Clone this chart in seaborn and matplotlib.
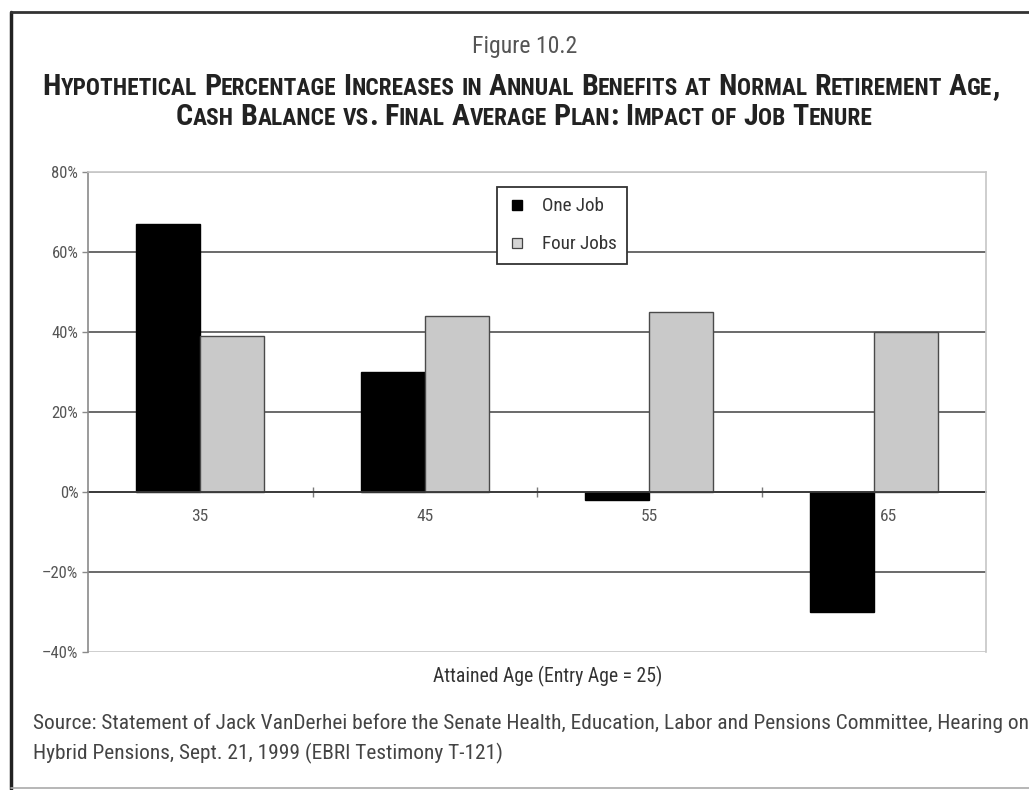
import matplotlib
matplotlib.use("Agg")
import matplotlib.pyplot as plt
import seaborn as sns
import pandas as pd
from matplotlib import font_manager as fm
from matplotlib.lines import Line2D
from matplotlib.ticker import FixedLocator, FuncFormatter
from matplotlib.transforms import ScaledTranslation

# ---------------- data ----------------
ages = ["35", "45", "55", "65"]
series = ["One Job", "Four Jobs"]
one_job = [67, 30, -2, -30]
four_jobs = [39, 44, 45, 40]
y_ticks = [-40, -20, 0, 20, 40, 60, 80]
x_title = "Attained Age (Entry Age = 25)"
fig_label = "Figure 10.2"
title_lines = [
    "Hypothetical Percentage Increases in Annual Benefits at Normal Retirement Age,",
    "Cash Balance vs. Final Average Plan: Impact of Job Tenure",
]
source_lines = [
    "Source: Statement of Jack VanDerhei before the Senate Health, Education, Labor and Pensions Committee, Hearing on",
    "Hybrid Pensions, Sept. 21, 1999 (EBRI Testimony T-121)",
]

df = pd.DataFrame({
    "age": ages * 2,
    "series": [series[0]] * len(ages) + [series[1]] * len(ages),
    "value": one_job + four_jobs,
})

# ---------------- style ----------------
sns.set_theme(style="white")
avail = {f.name for f in fm.fontManager.ttflist}


def pick(cands):
    for c in cands:
        if c in avail:
            return c
    return "DejaVu Sans"


COND = pick(["Liberation Sans Narrow", "DejaVu Sans Condensed", "Roboto Condensed",
             "Open Sans Condensed", "Liberation Sans", "Roboto"])
plt.rcParams["font.family"] = [COND, "DejaVu Sans"]

W, H = 1029, 790
fig = plt.figure(figsize=(W / 100, H / 100), dpi=100)
fig.patch.set_facecolor("white")
renderer = fig.canvas.get_renderer()


def text_width(s, size, **kw):
    t = fig.text(0, 0, s, fontsize=size, **kw)
    w = t.get_window_extent(renderer).width
    t.remove()
    return w


ax = fig.add_axes([88 / W, 1 - 652 / H, (986 - 88) / W, (652 - 172) / H])

sns.barplot(data=df, x="age", y="value", hue="series", order=ages, hue_order=series,
            palette={series[0]: "#000000", series[1]: "#c9c9c9"}, saturation=1,
            width=0.57, gap=0, errorbar=None, legend=False, ax=ax)

for bar in ax.containers[0]:
    bar.set_edgecolor("#000000")
    bar.set_linewidth(1.0)
for bar in ax.containers[1]:
    bar.set_edgecolor("#4a4a4a")
    bar.set_linewidth(1.0)

ax.set_xlim(-0.5, len(ages) - 0.5)
ax.set_ylim(y_ticks[0], y_ticks[-1])
ax.set_axisbelow(True)

# spines
ax.spines["bottom"].set_position(("data", 0))
ax.spines["bottom"].set_color("#3a3a3a")
ax.spines["bottom"].set_linewidth(1.3)
ax.spines["bottom"].set_zorder(1.5)
ax.spines["left"].set_color("#8a8a8a")
ax.spines["left"].set_linewidth(1.2)
for s in ("top", "right"):
    ax.spines[s].set_color("#c6c6c6")
    ax.spines[s].set_linewidth(1.2)

# y axis
ax.yaxis.set_major_locator(FixedLocator(y_ticks))
ax.yaxis.set_major_formatter(FuncFormatter(lambda v, p: f"{int(v)}%".replace("-", "\u2013")))
ax.tick_params(axis="y", which="major", length=4, width=1, color="#8a8a8a", direction="out",
               labelsize=12, labelcolor="#555555", pad=3, left=True)
ax.grid(axis="y", color="#505050", linewidth=1.2)
for tv, gl in zip(y_ticks, ax.yaxis.get_gridlines()):
    if tv in (y_ticks[0], y_ticks[-1]):
        gl.set_color("#c6c6c6")
ax.set_ylabel("")

# x axis
ax.tick_params(axis="x", which="major", length=0, pad=12, labelsize=12.5,
               labelcolor="#555555", bottom=True)
ax.xaxis.set_minor_locator(FixedLocator([0.5, 1.5, 2.5]))
ax.tick_params(axis="x", which="minor", length=7, width=1, direction="inout",
               color="#7a7a7a", bottom=True)
xl_size = 11 * 230 / text_width(x_title, 11)
ax.set_xlabel(x_title, fontsize=xl_size, color="#333333")
ax.xaxis.set_label_coords(0.512, -0.03)

fig.canvas.draw()
labs = ax.get_xticklabels()
labs[-1].set_transform(labs[-1].get_transform() + ScaledTranslation(0.15, 0, fig.dpi_scale_trans))

# legend
leg_size = 12 * 75 / text_width(series[1], 12)
handles = [
    Line2D([], [], marker="s", ls="", markersize=7, markerfacecolor="#000000",
           markeredgecolor="#000000"),
    Line2D([], [], marker="s", ls="", markersize=7, markerfacecolor="#d4d4d4",
           markeredgecolor="#444444", markeredgewidth=0.9),
]
leg = ax.legend(handles, series, loc="upper left", bbox_to_anchor=(0.455, 0.969),
                frameon=True, fancybox=False, edgecolor="#333333", framealpha=1,
                fontsize=leg_size, handlelength=1.0, handletextpad=0.8, borderpad=0.55,
                labelspacing=1.05, borderaxespad=0)
leg.get_frame().set_linewidth(1.3)
for t in leg.get_texts():
    t.set_color("#333333")


# ---------------- text ----------------
def small_caps(text, cx, base, big, small_ratio, weight="bold", color="#222222",
               draw=True):
    small = big * small_ratio
    words = text.split(" ")
    space = text_width("I I", big, weight=weight) - text_width("II", big, weight=weight)
    items = []
    for wi, word in enumerate(words):
        runs = []
        for ch in word:
            is_big = not ch.islower()
            if runs and runs[-1][1] == is_big:
                runs[-1][0] += ch.upper()
            else:
                runs.append([ch.upper(), is_big])
        for r, is_big in runs:
            sz = big if is_big else small
            items.append((r, sz, text_width(r, sz, weight=weight)))
        if wi < len(words) - 1:
            items.append((None, 0, space))
    total = sum(i[2] for i in items)
    if draw:
        x = cx - total / 2
        for s, sz, w in items:
            if s is not None:
                fig.text(x / W, 1 - base / H, s, fontsize=sz, weight=weight, color=color,
                         ha="left", va="baseline")
            x += w
    return total


ratio = 0.78
w0 = small_caps(title_lines[0], 0, 0, 16, ratio, draw=False)
big = 16 * 958 / w0
small_caps(title_lines[0], 521, 95, big, ratio)
small_caps(title_lines[1], 524, 125, big, ratio)

fl_size = 14 * 106 / text_width(fig_label, 14)
fig.text(525 / W, 1 - 53 / H, fig_label, fontsize=fl_size, color="#555555",
         ha="center", va="baseline")

src_size = 12 * 995 / text_width(source_lines[0], 12)
fig.text(33 / W, 1 - 729 / H, source_lines[0], fontsize=src_size, color="#444444",
         ha="left", va="baseline")
fig.text(33 / W, 1 - 759 / H, source_lines[1], fontsize=src_size, color="#444444",
         ha="left", va="baseline")

# frame around the figure
fig.add_artist(Line2D([11 / W, 11 / W], [1 - 12 / H, 1 - 789 / H], transform=fig.transFigure,
                      color="#222222", lw=2.5))
fig.add_artist(Line2D([11 / W, 1.0], [1 - 12 / H, 1 - 12 / H], transform=fig.transFigure,
                      color="#333333", lw=2))
fig.add_artist(Line2D([11 / W, 1.0], [1 - 788 / H, 1 - 788 / H], transform=fig.transFigure,
                      color="#aaaaaa", lw=1.2))

fig.savefig("out.png", dpi=100, facecolor="white")
